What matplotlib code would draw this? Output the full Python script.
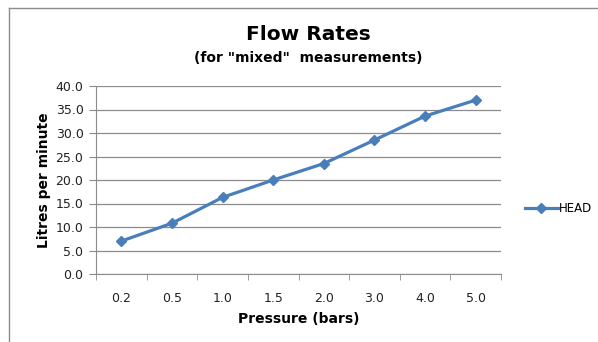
import matplotlib
matplotlib.use("Agg")
from matplotlib import pyplot as plt
from matplotlib.lines import Line2D

# pressure categories and measured flow (litres per minute)
pressures = ["0.2", "0.5", "1.0", "1.5", "2.0", "3.0", "4.0", "5.0"]
head_flow = [7.0, 10.8, 16.3, 20.0, 23.5, 28.5, 33.6, 37.0]
y_ticks = [0, 5, 10, 15, 20, 25, 30, 35, 40]

plt.rcParams['font.family'] = ['DejaVu Sans']

fig = plt.figure(figsize=(5.98, 3.42), dpi=100)
ax = fig.add_axes([96 / 598, 68 / 342, 405 / 598, 188 / 342])

x = list(range(len(pressures)))
ax.plot(x, head_flow, color='#4A7EBB', linewidth=2.3, marker='D',
        markersize=5, label='HEAD')

ax.set_xlim(-0.5, len(pressures) - 0.5)
ax.set_ylim(0, 40)
ax.set_yticks(y_ticks)
ax.set_yticklabels([f"{v:.1f}" for v in y_ticks], fontsize=9, color='#222222')
ax.yaxis.grid(True, color='#8c8c8c', linewidth=0.9)
ax.set_axisbelow(True)

# category labels centred, tick marks on the category boundaries
ax.set_xticks(x)
ax.set_xticklabels(pressures, fontsize=9, color='#222222')
ax.tick_params(axis='x', length=0, pad=13)
ax.set_xticks([i - 0.5 for i in range(len(pressures) + 1)], minor=True)
ax.tick_params(axis='x', which='minor', length=4, color='#8c8c8c', direction='out')
ax.tick_params(axis='y', length=5, color='#8c8c8c', pad=4)

for side in ['top', 'right']:
    ax.spines[side].set_visible(False)
for side in ['left', 'bottom']:
    ax.spines[side].set_color('#8c8c8c')

ax.set_xlabel("Pressure (bars)", fontsize=10, fontweight='bold', labelpad=5)
ax.set_ylabel("Litres per minute", fontsize=10, fontweight='bold', labelpad=3)

fig.text(0.515, 0.90, "Flow Rates", ha='center', va='center',
         fontsize=14.5, fontweight='bold')
fig.text(0.515, 0.83, '(for "mixed"  measurements)', ha='center', va='center',
         fontsize=10, fontweight='bold')

ax.legend(loc='center left', bbox_to_anchor=(1.032, 0.35), frameon=False,
          fontsize=8.5, handlelength=2.8, handletextpad=0.1)

# chart area border (left and top edges)
fig.add_artist(Line2D([9 / 598, 9 / 598], [0, 1 - 8 / 342],
                      transform=fig.transFigure, color='#8c8c8c', linewidth=1))
fig.add_artist(Line2D([9 / 598, 1], [1 - 8 / 342, 1 - 8 / 342],
                      transform=fig.transFigure, color='#8c8c8c', linewidth=1))

fig.savefig("out.png", dpi=100)
